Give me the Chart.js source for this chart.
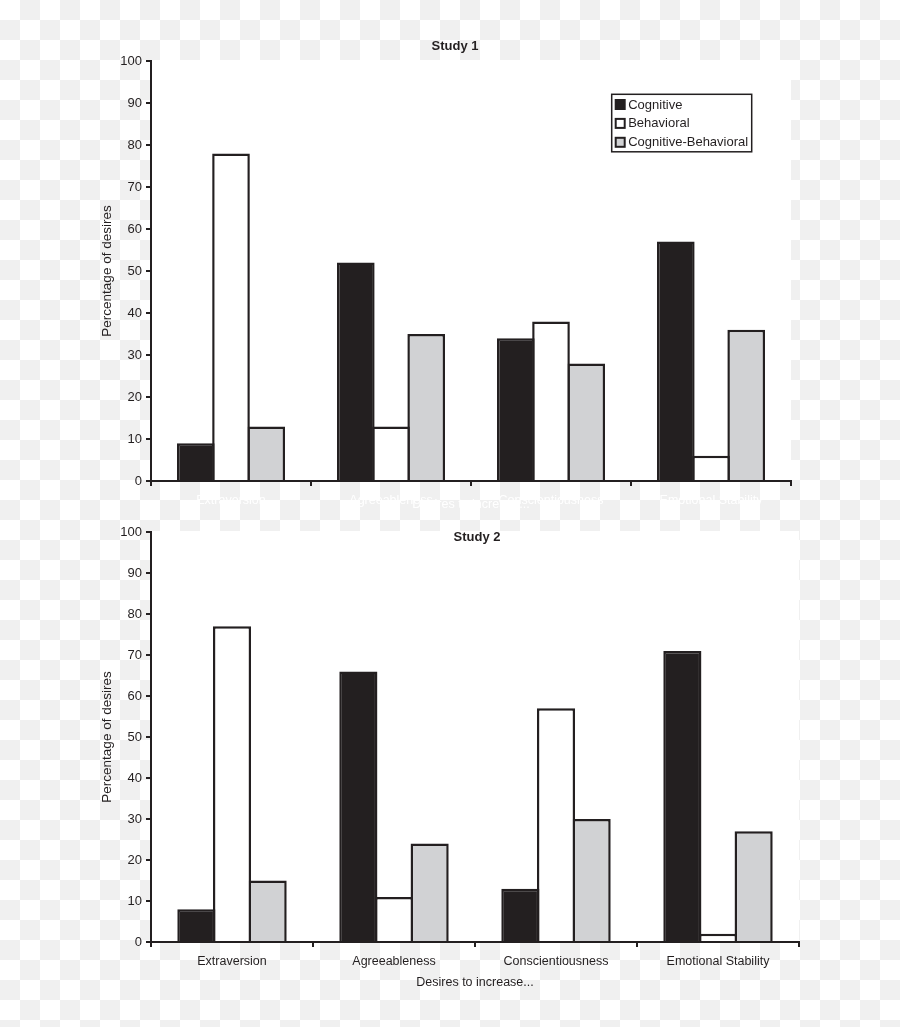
<!DOCTYPE html>
<html>
<head>
<meta charset="utf-8">
<script src="https://cdn.jsdelivr.net/npm/chart.js@4.4.1/dist/chart.umd.min.js"></script>
<style>
  html, body { margin: 0; padding: 0; }
  body {
    width: 900px;
    height: 1027px;
    overflow: hidden;
    position: relative;
    background-color: #fff;
    background-image: conic-gradient(#f0f0f0 0 25%, #fff 0 50%, #f0f0f0 0 75%, #fff 0);
    background-size: 40px 40px;
  }
  canvas { position: absolute; left: 0; }
  #grafico-estudo1 { top: 0; }
  #grafico-estudo2 { top: 520px; }
</style>
</head>
<body>
<canvas id="grafico-estudo1" width="900" height="520"></canvas>
<canvas id="grafico-estudo2" width="900" height="507"></canvas>
<script>
// ---------------------
// Dados
// ---------------------
const CATEGORIAS = ['Extraversion', 'Agreeableness', 'Conscientiousness', 'Emotional Stability'];
const SERIES = ['Cognitive', 'Behavioral', 'Cognitive-Behavioral'];

// Study 1
const estudo1Cognitive = [9, 52, 34, 57];
const estudo1Behavioral = [78, 13, 38, 6];
const estudo1CogBehav = [13, 35, 28, 36];

// Study 2
const estudo2Cognitive = [8, 66, 13, 71];
const estudo2Behavioral = [77, 11, 57, 2];
const estudo2CogBehav = [15, 24, 30, 27];

// Eixo Y
const Y_MIN = 0;
const Y_MAX = 100;
const Y_PASSO = 10;

// ---------------------
// Estilos
// ---------------------
const COR_TEXTO = '#231f20';
const COR_BORDA = '#231f20';
const CORES_SERIES = ['#231f20', '#ffffff', '#d1d2d4'];
const FONTE = '"Liberation Sans", Arial, Helvetica, sans-serif';

Chart.defaults.font.family = FONTE;

// ---------------------
// Plugins
// ---------------------
const fundoBranco = {
    id: 'fundoBranco',
    beforeDraw(chart) {
        const { ctx, chartArea: a } = chart;
        ctx.save();
        ctx.fillStyle = '#ffffff';
        ctx.fillRect(a.left - 1, a.top - 1, a.right - a.left + 1, a.bottom - a.top + 1);
        ctx.restore();
    }
};

const tituloEstudo = {
    id: 'tituloEstudo',
    afterDraw(chart, args, opts) {
        const { ctx, chartArea: a } = chart;
        ctx.save();
        ctx.font = `bold 13px ${FONTE}`;
        ctx.fillStyle = COR_TEXTO;
        ctx.textAlign = 'center';
        ctx.textBaseline = 'middle';
        ctx.fillText(opts.texto, (a.left + a.right) / 2 + opts.dx, a.top + opts.dy);
        ctx.restore();
    }
};

const legendaCaixa = {
    id: 'legendaCaixa',
    afterDraw(chart, args, opts) {
        if (!opts.mostrar) return;
        const { ctx, chartArea: a } = chart;
        const x = a.left + opts.dx;
        const y = a.top + opts.dy;

        ctx.save();
        ctx.fillStyle = '#ffffff';
        ctx.fillRect(x, y, opts.largura, opts.altura);
        ctx.lineWidth = 1.5;
        ctx.strokeStyle = COR_BORDA;
        ctx.strokeRect(x, y, opts.largura, opts.altura);

        chart.data.datasets.forEach((ds, i) => {
            const ly = y + 10.7 + i * 18.9;
            ctx.fillStyle = ds.backgroundColor;
            ctx.fillRect(x + 4, ly - 5, 9, 9);
            ctx.lineWidth = 2;
            ctx.strokeStyle = COR_BORDA;
            ctx.strokeRect(x + 4, ly - 5, 9, 9);

            ctx.fillStyle = COR_TEXTO;
            ctx.font = `13px ${FONTE}`;
            ctx.textAlign = 'left';
            ctx.textBaseline = 'middle';
            ctx.fillText(ds.label, x + 16.5, ly);
        });
        ctx.restore();
    }
};

// ---------------------
// Montagem dos gráficos
// ---------------------
function montarDatasets(valores) {
    return SERIES.map((nome, i) => ({
        label: nome,
        data: valores[i],
        backgroundColor: CORES_SERIES[i],
        borderColor: COR_BORDA,
        borderWidth: 2.5,
        borderSkipped: 'start',
        barPercentage: 1.07,
        categoryPercentage: 0.66
    }));
}

function renderizarGrafico(id, valores, cfg) {
    const ctx = document.getElementById(id).getContext('2d');

    return new Chart(ctx, {
        type: 'bar',
        data: {
            labels: CATEGORIAS,
            datasets: montarDatasets(valores)
        },
        plugins: [fundoBranco, tituloEstudo, legendaCaixa],
        options: {
            responsive: false,
            animation: false,
            layout: { padding: cfg.padding },
            plugins: {
                legend: { display: false },
                tooltip: { enabled: false },
                tituloEstudo: cfg.titulo,
                legendaCaixa: cfg.legenda
            },
            scales: {
                x: {
                    offset: true,
                    grid: {
                        offset: true,
                        drawOnChartArea: false,
                        drawTicks: true,
                        tickLength: 5,
                        color: COR_BORDA,
                        lineWidth: 2
                    },
                    border: { display: true, color: COR_BORDA, width: 2 },
                    ticks: {
                        color: cfg.corRotulosX,
                        font: { size: 12.5 },
                        padding: 7,
                        maxRotation: 0,
                        autoSkip: false
                    },
                    title: {
                        display: true,
                        text: 'Desires to increase...',
                        color: cfg.corRotulosX,
                        font: { size: 12.5 },
                        padding: { top: 0, bottom: cfg.paddingTituloX }
                    },
                    afterFit: (s) => { s.height = cfg.alturaX; }
                },
                y: {
                    min: Y_MIN,
                    max: Y_MAX,
                    grid: {
                        drawOnChartArea: false,
                        tickLength: 5,
                        color: COR_BORDA,
                        lineWidth: 2
                    },
                    border: { display: true, color: COR_BORDA, width: 2 },
                    ticks: {
                        stepSize: Y_PASSO,
                        color: COR_TEXTO,
                        font: { size: 13 },
                        padding: 4
                    },
                    title: {
                        display: true,
                        text: 'Percentage of desires',
                        color: COR_TEXTO,
                        font: { size: 13.5 },
                        padding: { top: 99.5, bottom: 0 }
                    },
                    afterFit: (s) => { s.width = 151; }
                }
            }
        }
    });
}

// ---------------------
// Inicialização
// ---------------------
renderizarGrafico('grafico-estudo1',
    [estudo1Cognitive, estudo1Behavioral, estudo1CogBehav],
    {
        padding: { top: 61, right: 109, bottom: 0, left: 0 },
        alturaX: 39,
        paddingTituloX: 7.5,
        corRotulosX: '#ffffff',
        titulo: { texto: 'Study 1', dx: -16, dy: -15 },
        legenda: { mostrar: true, dx: 460.7, dy: 33.3, largura: 140, altura: 57.5 }
    });

renderizarGrafico('grafico-estudo2',
    [estudo2Cognitive, estudo2Behavioral, estudo2CogBehav],
    {
        padding: { top: 12, right: 101, bottom: 30, left: 0 },
        alturaX: 55,
        paddingTituloX: 6.5,
        corRotulosX: COR_TEXTO,
        titulo: { texto: 'Study 2', dx: 2, dy: 5 },
        legenda: { mostrar: false }
    });
</script>
</body>
</html>
